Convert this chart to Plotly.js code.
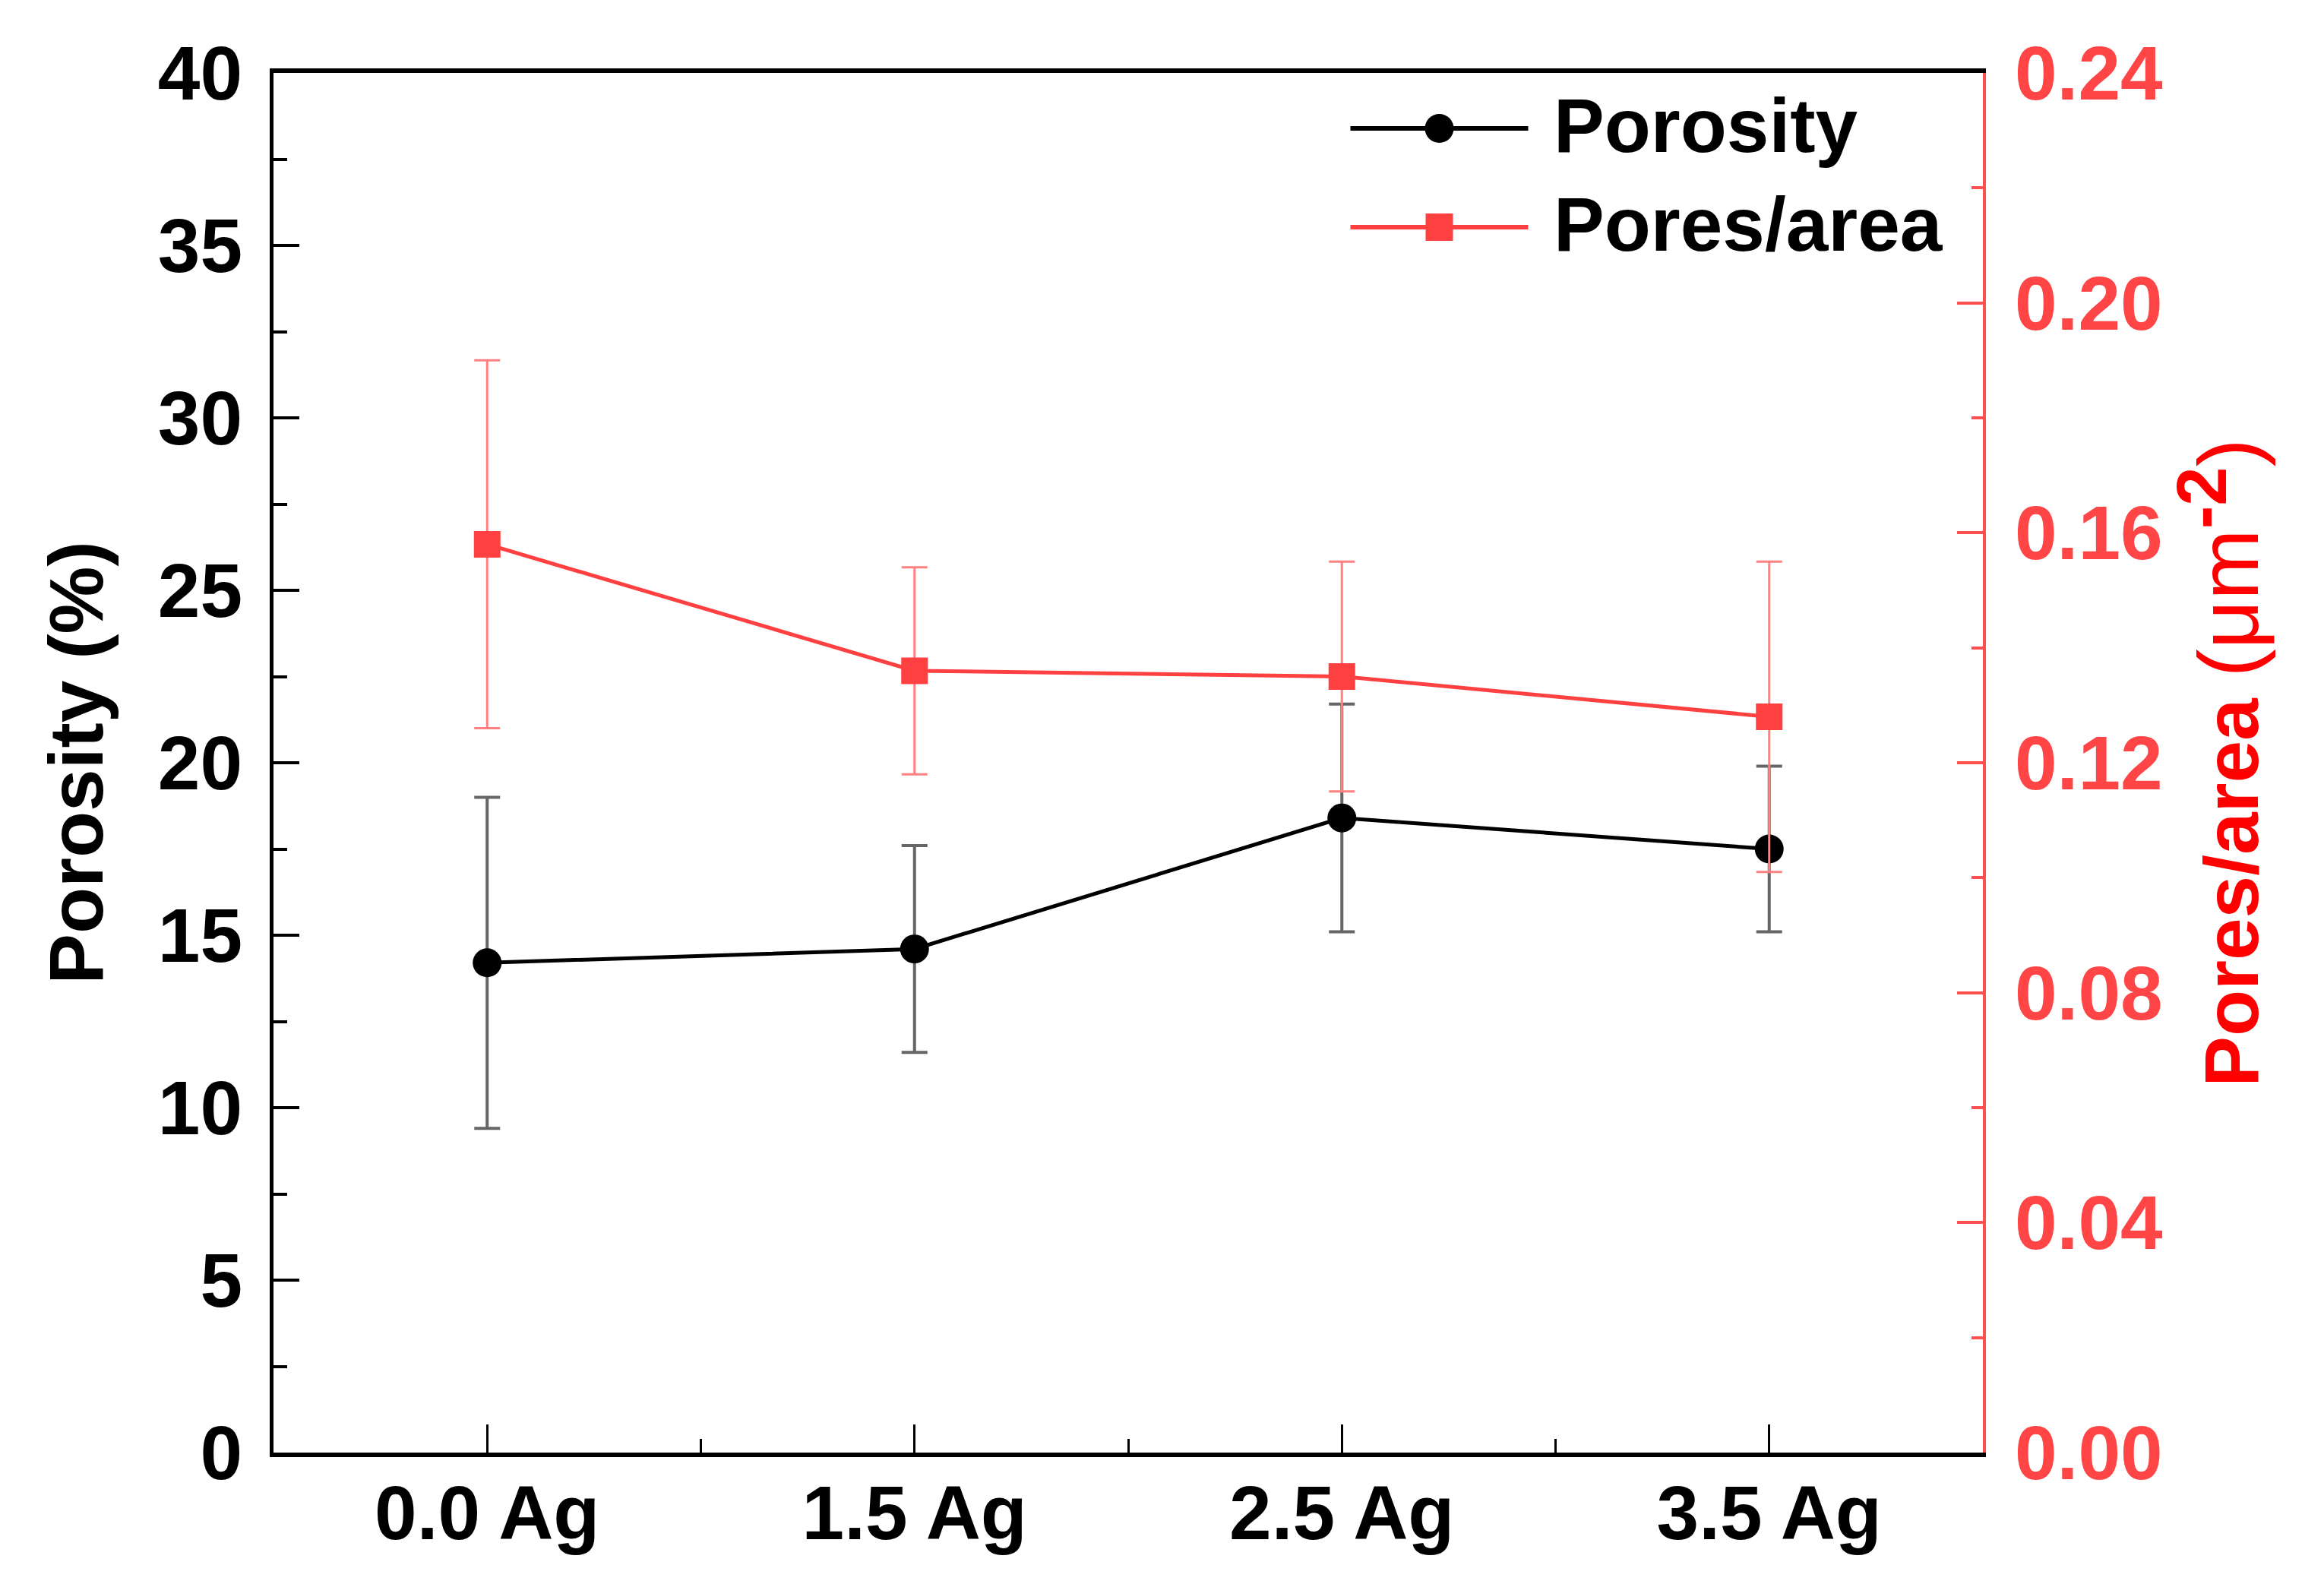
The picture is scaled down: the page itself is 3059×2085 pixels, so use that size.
<!DOCTYPE html>
<html>
<head>
<meta charset="utf-8">
<script src="https://cdn.plot.ly/plotly-3.0.1.min.js"></script>
<style>
  html, body { margin: 0; padding: 0; background: #fff; }
  #chart { width: 3059px; height: 2085px; }
</style>
</head>
<body>
<div id="chart"></div>
<script>
// data
const categories = ['0.0 Ag', '1.5 Ag', '2.5 Ag', '3.5 Ag'];
const seriesNames = ['Porosity', 'Pores/area'];
const porosity = [14.2, 14.6, 18.4, 17.5];
const porosityErr = [4.8, 3.0, 3.3, 2.4];
const poresPerArea = [0.158, 0.136, 0.135, 0.128];
const poresPerAreaErr = [0.032, 0.018, 0.020, 0.027];

// colours
const black = '#000000';
const red = '#ff4040';
const font = 'Liberation Sans, Arial, sans-serif';

const xIdx = categories.map((c, i) => i);

const traces = [
    {
        x: xIdx, y: porosity, name: seriesNames[0], type: 'scatter', mode: 'lines+markers',
        line: { color: black, width: 5 },
        marker: { symbol: 'circle', size: 38, color: black },
        error_y: { type: 'data', array: porosityErr, visible: true, color: '#666666', thickness: 4, width: 17 },
        showlegend: false
    },
    {
        x: xIdx, y: poresPerArea, name: seriesNames[1], type: 'scatter', mode: 'lines+markers',
        yaxis: 'y2',
        line: { color: red, width: 5 },
        marker: { symbol: 'square', size: 35, color: red },
        error_y: { type: 'data', array: poresPerAreaErr, visible: true, color: '#ff8080', thickness: 3, width: 17 },
        showlegend: false
    }
];

// hand-made legend (long sample lines like the original)
const legendY = [0.9598, 0.8882];
const shapes = [
    { type: 'line', xref: 'paper', yref: 'paper', x0: 0.630, x1: 0.734, y0: legendY[0], y1: legendY[0], line: { color: black, width: 6 } },
    { type: 'circle', xref: 'paper', yref: 'paper', xsizemode: 'pixel', ysizemode: 'pixel',
      xanchor: 0.682, yanchor: legendY[0], x0: -19, x1: 19, y0: -19, y1: 19, fillcolor: black, line: { width: 0 } },
    { type: 'line', xref: 'paper', yref: 'paper', x0: 0.630, x1: 0.734, y0: legendY[1], y1: legendY[1], line: { color: red, width: 6 } },
    { type: 'rect', xref: 'paper', yref: 'paper', xsizemode: 'pixel', ysizemode: 'pixel',
      xanchor: 0.682, yanchor: legendY[1], x0: -18, x1: 18, y0: -18, y1: 18, fillcolor: red, line: { width: 0 } }
];
const annotations = seriesNames.map((name, i) => ({
    xref: 'paper', yref: 'paper', x: 0.748, y: legendY[i] + 0.002, xanchor: 'left', yanchor: 'middle',
    text: name, showarrow: false,
    font: { family: font, size: 100, color: black, weight: 'bold' }
}));

const layout = {
    width: 3059, height: 2085,
    margin: { l: 360, r: 449, t: 96, b: 173 },
    paper_bgcolor: '#ffffff', plot_bgcolor: '#ffffff',
    font: { family: font, color: black },
    showlegend: false,
    xaxis: {
        range: [-0.5, 3.5], tickvals: xIdx, ticktext: categories,
        showgrid: false, zeroline: false,
        showline: true, linecolor: black, linewidth: 6, mirror: true,
        ticks: 'inside', ticklen: 37, tickwidth: 3, tickcolor: black,
        minor: { tickvals: [0.5, 1.5, 2.5], ticks: 'inside', ticklen: 18, tickwidth: 3, tickcolor: black },
        tickfont: { family: font, size: 100, color: black, weight: 'bold' },
        ticklabelstandoff: -12
    },
    yaxis: {
        range: [0, 40], dtick: 5, tick0: 0,
        showgrid: false, zeroline: false,
        showline: true, linecolor: black, linewidth: 5,
        ticks: 'inside', ticklen: 34, tickwidth: 4, tickcolor: black,
        minor: { dtick: 2.5, ticks: 'inside', ticklen: 18, tickwidth: 4, tickcolor: black },
        tickfont: { family: font, size: 100, color: black, weight: 'bold' },
        ticklabelstandoff: 16,
        title: { text: 'Porosity (%)', standoff: 40, font: { family: font, size: 100, color: black, weight: 'bold' } }
    },
    yaxis2: {
        overlaying: 'y', side: 'right',
        range: [0, 0.24], dtick: 0.04, tick0: 0, tickformat: '.2f',
        showgrid: false, zeroline: false,
        showline: true, linecolor: '#ff5050', linewidth: 4,
        ticks: 'inside', ticklen: 34, tickwidth: 4, tickcolor: '#ff5050',
        minor: { dtick: 0.02, ticks: 'inside', ticklen: 15, tickwidth: 4, tickcolor: '#ff5050' },
        tickfont: { family: font, size: 100, color: '#ff4545', weight: 'bold' },
        ticklabelstandoff: 18,
        title: {
            text: 'Pores/area <span style="font-weight:normal;font-size:112px">(μm</span>' +
                  '<sup><span style="font-size:92px">-2</span></sup>' +
                  '<span style="font-weight:normal;font-size:112px">)</span>',
            standoff: 5,
            font: { family: font, size: 100, color: '#ff0000', weight: 'bold' }
        }
    },
    shapes: shapes,
    annotations: annotations
};

Plotly.newPlot('chart', traces, layout, { staticPlot: true });
</script>
</body>
</html>
